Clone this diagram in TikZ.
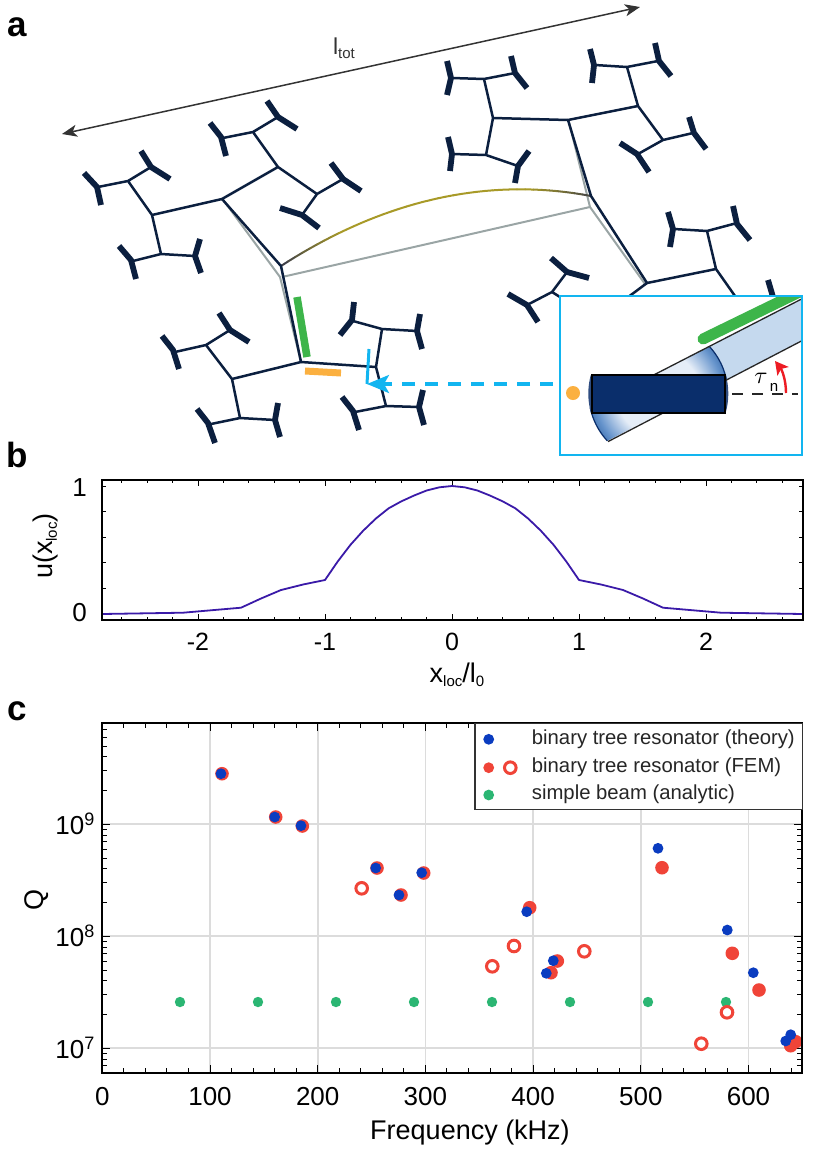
\documentclass[tikz,border=0pt]{standalone}
\usepackage{fontspec}
\setmainfont{Liberation Sans}
\usetikzlibrary{arrows.meta}

\definecolor{treenavy}{HTML}{0B1F3F}
\definecolor{restgray}{HTML}{9AA5A5}
\definecolor{beamgold}{HTML}{A89A28}
\definecolor{beamdark}{HTML}{3F4048}
\definecolor{insetblue}{HTML}{12B5F0}
\definecolor{barorange}{HTML}{FBB040}
\definecolor{bargreen}{HTML}{3DB54A}
\definecolor{beamlight}{HTML}{C5D9EE}
\definecolor{clampblue}{HTML}{0A2E6B}
\definecolor{gridgray}{HTML}{DCDCDC}
\definecolor{modeviolet}{HTML}{3A1AA8}
\definecolor{dotblue}{HTML}{0A3CC0}
\definecolor{dotred}{HTML}{F04438}
\definecolor{dotgreen}{HTML}{2BB673}
\definecolor{anglered}{HTML}{ED1C24}
\pgfdeclareradialshading{fanshade}{\pgfpointorigin}{rgb(0bp)=(0.9,0.93,0.97); rgb(15bp)=(0.9,0.93,0.97); rgb(23bp)=(0.4,0.58,0.8); rgb(31bp)=(0.04,0.25,0.52); rgb(50bp)=(0.04,0.25,0.52)}

\newcommand{\subtext}[1]{\raisebox{-4pt}{\fontsize{15}{15}\selectfont #1}}
\newcommand{\powten}[1]{10\raisebox{9pt}{\fontsize{18}{18}\selectfont #1}}

\tikzset{
    restline/.style={draw=restgray,line width=2pt},
    branchline/.style={draw=treenavy,line width=2.5pt,line join=round},
    forkline/.style={draw=treenavy,line width=5.8pt,line join=round},
    ticklabel/.style={font=\fontsize{26}{26}\selectfont,inner sep=0pt},
    axislabel/.style={font=\fontsize{27}{27}\selectfont,inner sep=0pt},
    panellabel/.style={font=\fontsize{35}{35}\selectfont\bfseries,inner sep=0pt},
    legendlabel/.style={font=\fontsize{20.3}{20.3}\selectfont,text=black!85,inner sep=0pt,anchor=west},
    bluedot/.style={fill=dotblue},
    reddot/.style={fill=dotred},
    greendot/.style={fill=dotgreen},
    openring/.style={draw=dotred,fill=white,line width=3pt}
}

\begin{document}
\begin{tikzpicture}[x=1pt,y=-1pt]
    \useasboundingbox (0,0) rectangle (830,1157);

    % panel a
    \node[panellabel] (lettera) at (17,27) {a};
    \coordinate (totL) at (62,134);
    \coordinate (totR) at (640,7);
    \draw[black!80,line width=1.5pt,{Stealth[length=15pt,width=12pt,inset=4pt]}-{Stealth[length=15pt,width=12pt,inset=4pt]}] (totL) -- (totR);
    \node[font=\fontsize{23}{23}\selectfont,text=black!80,inner sep=0pt] (ltot) at (344,48) {l\subtext{tot}};

    \coordinate (A) at (222,199);
    \coordinate (B) at (281,266);
    \coordinate (C) at (301,362);
    \coordinate (D) at (568,120);
    \coordinate (E) at (591,196);
    \coordinate (F) at (647,283);

    \draw[restline] (224,201)--(280,277)--(301,362) (282,277)--(590,207) (569,122)--(590,207)--(645,284);
    % gold bow of the long beam
    \foreach \i in {0,...,39}{
        \pgfmathsetmacro{\ta}{\i/40}
        \pgfmathsetmacro{\tb}{(\i+1)/40}
        \pgfmathsetmacro{\mixed}{min(100,170*sin(4.5*\i))}
        \pgfmathsetmacro{\xa}{(1-\ta)^3*281+3*(1-\ta)^2*\ta*375+3*(1-\ta)*\ta^2*480+\ta^3*591}
        \pgfmathsetmacro{\ya}{(1-\ta)^3*266+3*(1-\ta)^2*\ta*205+3*(1-\ta)*\ta^2*175+\ta^3*196}
        \pgfmathsetmacro{\xb}{(1-\tb)^3*281+3*(1-\tb)^2*\tb*375+3*(1-\tb)*\tb^2*480+\tb^3*591}
        \pgfmathsetmacro{\yb}{(1-\tb)^3*266+3*(1-\tb)^2*\tb*205+3*(1-\tb)*\tb^2*175+\tb^3*196}
        \draw[beamgold!\mixed!beamdark,line width=2pt,line cap=round] (\xa,\ya) -- (\xb,\yb);
    }

    % branches
    \draw[branchline] (A)--(B)--(C) (D)--(E)--(F);
    \draw[branchline] (A)--(152,215) (128,181)--(152,215)--(161,254) (98,187)--(128,181)--(151,167) (133,261)--(161,254)--(195,256);
    \draw[branchline] (A)--(278,167) (253,132)--(278,167)--(317,194) (223,138)--(253,132)--(278,117) (343,179)--(317,194)--(302,215);
    \draw[branchline] (C)--(232,379) (206,345)--(232,379)--(240,418) (175,352)--(206,345)--(230,330) (211,424)--(240,418)--(275,420);
    \draw[branchline] (C)--(376,367) (382,329)--(376,367)--(386,406) (353,321)--(382,329)--(417,331) (355,412)--(386,406)--(419,407);
    \draw[branchline] (D)--(493,118) (484,79)--(493,118)--(486,155) (452,78)--(484,79)--(515,73) (452,154)--(486,155)--(518,166);
    \draw[branchline] (D)--(638,106) (627,67)--(638,106)--(663,140) (595,65)--(627,67)--(658,61) (693,133)--(663,140)--(638,154);
    \draw[branchline] (F)--(716,269) (707,231)--(716,269)--(735,296) (674,229)--(707,231)--(737,223);
    \draw[branchline] (F)--(600,318) (560,297)--(552,292)--(567,272) (552,292)--(527,305);

    % thick forks
    \draw[forkline] (84,173)--(97,187)--(101,205) (141,151)--(151,167)--(170,179) (119,246)--(131,260)--(136,279) (200,239)--(195,256)--(201,273);
    \draw[forkline] (210,123)--(221,137)--(226,156) (267,101)--(278,117)--(297,129) (331,163)--(343,179)--(361,191) (280,208)--(302,215)--(319,228);
    \draw[forkline] (162,336)--(173,350)--(179,369) (219,313)--(230,330)--(249,342) (197,409)--(208,423)--(215,443) (278,403)--(275,420)--(280,437);
    \draw[forkline] (354,302)--(352,320)--(340,335) (420,314)--(417,331)--(422,349) (342,397)--(353,411)--(359,430) (423,390)--(419,407)--(424,425);
    \draw[forkline] (447,61)--(451,78)--(447,95) (511,56)--(515,73)--(527,88) (448,137)--(452,154)--(450,171) (529,151)--(518,166)--(515,183);
    \draw[forkline] (590,49)--(594,65)--(592,83) (655,43)--(659,61)--(671,76) (689,117)--(694,133)--(706,149) (620,143)--(637,154)--(649,172);
    \draw[forkline] (668,212)--(673,229)--(670,247) (733,206)--(737,224)--(750,240) (551,258)--(567,272)--(589,278) (508,294)--(527,305)--(538,322) (768,280)--(773,297);

    % bars and pointer
    \draw[bargreen,line width=7.5pt] (297,297) -- (307,357);
    \draw[barorange,line width=7pt] (305,371) -- (341,373);
    \coordinate (pointerTip) at (367,384);
    \coordinate (pointerEnd) at (553,384);
    \draw[insetblue,line width=3pt] (369,349) -- (pointerTip);
    \draw[insetblue,line width=3.2pt,dash pattern=on 13pt off 10pt,-{Stealth[length=22pt,width=18pt,inset=5pt]}] (pointerEnd) -- (pointerTip);

    % inset
    \coordinate (insetNW) at (560,296);
    \coordinate (insetSE) at (802,455);
    \coordinate (fanC) at (658.3,393.6);
    \fill[white] (insetNW) rectangle (insetSE);
    \begin{scope}
        \clip (insetNW) rectangle (insetSE);
        \fill[beamlight] (649.75,377) -- (801,299.3) -- (801,341.2) -- (666.85,410.2) -- cycle;
        \draw[bargreen,line width=11pt,line cap=round] (703,339) -- (820,282);
        \begin{scope}
            \clip (583.05,411.3) -- (716.4,342.7) -- (733.5,375.9) -- (600.15,444.5) -- cycle;
            \shade[shading=fanshade] (fanC) circle (69.5pt);
            \draw[clampblue,line width=1.2pt] (fanC) circle (69.5pt);
        \end{scope}
        \begin{scope}
            \clip (580,375) rectangle (740,413);
            \fill[clampblue!85] (fanC) circle (70pt);
        \end{scope}
        \draw[black!85,line width=1.3pt] (649.75,377) -- (801,299.3) (608,441.6) -- (801,341.2);
    \end{scope}
    \draw[black,fill=clampblue,line width=2pt] (592,375) rectangle (725,413);
    \fill[barorange] (573,393) circle (7pt);
    \draw[black!85,line width=1.5pt,dash pattern=on 11pt off 9pt] (732,394) -- (798,394);
    \node[scale=2.4,inner sep=0pt] (tauangle) at (761,378) {$\tau$};
    \node[font=\fontsize{15}{15}\selectfont,inner sep=0pt] (tausub) at (774,387) {n};
    \draw[anglered,line width=2.4pt,-{Stealth[length=13pt,width=14pt,inset=3pt]}] (786,393) .. controls (786,380) and (782,370) .. (775,361);
    \draw[insetblue,line width=2.4pt] (insetNW) rectangle (insetSE);

    % panel b
    \node[panellabel] (letterb) at (17,455) {b};
    \pgfmathsetmacro{\bzero}{452}
    \pgfmathsetmacro{\bunit}{127}
    \foreach \t in {-2.6,-2.4,...,2.7}{
        \pgfmathsetmacro{\tx}{\bzero+\bunit*\t}
        \draw[black,line width=0.9pt] (\tx,620) -- (\tx,617) (\tx,480) -- (\tx,483);
    }
    \foreach \t in {-2,-1,0,1,2}{
        \pgfmathsetmacro{\tx}{\bzero+\bunit*\t}
        \draw[black,line width=1pt] (\tx,620) -- (\tx,614) (\tx,480) -- (\tx,486);
        \node[ticklabel,font=\fontsize{25}{25}\selectfont] (bx\t) at (\tx,642) {\t};
    }
    \foreach \t in {0,1,...,5}{
        \pgfmathsetmacro{\ty}{614-25.6*\t}
        \draw[black,line width=1pt] (102,\ty) -- (106,\ty) (803,\ty) -- (799,\ty);
    }
    \draw[modeviolet,line width=1.8pt,line join=round] plot coordinates {(102,614) (183,612.7) (241,607.7) (261,598.5) (281,590) (303,584.5) (325,580)
        (337.7,561.5) (350.4,544.9) (363.1,530.8) (375.8,518.6) (388.5,508.4) (401.2,501.4) (413.9,495.6) (426.6,490.5) (439.3,487.3) (452,486)
        (464.7,487.3) (477.4,490.5) (490.1,495.6) (502.8,501.4) (515.5,508.4) (528.2,518.6) (540.9,530.8) (553.6,544.9) (566.3,561.5) (579,580)
        (601,584.5) (623,590) (643,598.5) (663,607.7) (721,612.7) (803,614)};
    \draw[black,line width=1.8pt] (102,480) rectangle (803,620);
    \node[ticklabel,anchor=east] (bylabela) at (87,488) {1};
    \node[ticklabel,anchor=east] (bylabelb) at (87,613) {0};
    \node[axislabel,rotate=90] (bylabel) at (46,546) {u(x\subtext{loc})};
    \node[axislabel] (bxlabel) at (457,675) {x\subtext{loc}/l\subtext{0}};

    % panel c
    \node[panellabel] (letterc) at (17,711) {c};
    \coordinate (boxNW) at (102,723.3);
    \coordinate (boxSE) at (802.3,1073.3);
    \foreach \f in {100,200,...,600}{
        \pgfmathsetmacro{\fx}{102.3+1.077*\f}
        \draw[gridgray,line width=1.8pt] (\fx,723.3) -- (\fx,1073.3);
    }
    \foreach \d in {0,1,2}{
        \pgfmathsetmacro{\qy}{1048.3-112*\d}
        \draw[gridgray,line width=1.8pt] (102,\qy) -- (802.3,\qy);
    }
    \begin{scope}
        \clip (boxNW) rectangle (boxSE);
        \foreach \f in {20,40,...,640}{
            \pgfmathsetmacro{\fx}{102.3+1.077*\f}
            \draw[black,line width=0.9pt] (\fx,1073.3) -- (\fx,1068.3) (\fx,723.3) -- (\fx,728.3);
        }
        \foreach \d in {-1,0,1,2}{
            \foreach \m in {2,...,9}{
                \pgfmathsetmacro{\qy}{1048.3-112*(\d+log10(\m))}
                \draw[black,line width=0.9pt] (102,\qy) -- (107,\qy) (802.3,\qy) -- (797.3,\qy);
            }
        }
    \end{scope}
    \foreach \f in {100,200,...,600}{
        \pgfmathsetmacro{\fx}{102.3+1.077*\f}
        \draw[black,line width=1pt] (\fx,1073.3) -- (\fx,1065.3) (\fx,723.3) -- (\fx,731.3);
    }
    \foreach \d in {0,1,2}{
        \pgfmathsetmacro{\qy}{1048.3-112*\d}
        \draw[black,line width=1pt] (102,\qy) -- (110,\qy) (802.3,\qy) -- (794.3,\qy);
    }
    \foreach \gx in {180,258,336,414,492,570,648,726}
        \fill[greendot] (\gx,1002) circle (5.2pt);
    \foreach \rx/\ry in {361.7/888.3,492.3/966.3,514/946,584.3/951.3,701.3/1043.7,727/1012.3}
        \draw[openring] (\rx,\ry) circle (5.8pt);
    \foreach \rx/\ry in {222/773.7,275.7/817,302.3/826,377/868,401/895,423.7/873,529.7/907.7,551/972.7,557.3/961,662/867.7,732.3/953.3,759/990,790.7/1045.7,795.7/1041.7}
        \fill[reddot] (\rx,\ry) circle (6.8pt);
    \foreach \bx/\by in {221/773.7,274.7/817,301/825.7,375.7/868,399/895,421.7/872.7,526.7/911.7,546.3/973.3,553.3/960.7,658/848.3,727.3/930,753.3/972.7,785.7/1041,790.7/1034.7}
        \fill[bluedot] (\bx,\by) circle (5.4pt);
    \draw[black,line width=1.8pt] (boxNW) rectangle (boxSE);

    % legend
    \draw[fill=white,draw=black!80,line width=1.6pt] (474.7,723.3) rectangle (802.3,809.3);
    \fill[bluedot] (488.7,739.3) circle (5.4pt);
    \fill[reddot] (488.7,767.7) circle (5.4pt);
    \draw[openring] (510.3,767.7) circle (5.8pt);
    \fill[greendot] (488.7,795) circle (5.4pt);
    \node[legendlabel] (legtheory) at (531.7,739.7) {binary tree resonator (theory)};
    \node[legendlabel] (legfem) at (531.7,767) {binary tree resonator (FEM)};
    \node[legendlabel] (legbeam) at (531.7,794) {simple beam (analytic)};

    \foreach \f in {0,100,...,600}{
        \pgfmathsetmacro{\fx}{102.3+1.077*\f}
        \node[ticklabel] (cx\f) at (\fx,1097) {\f};
    }
    \foreach \d/\e in {0/7,1/8,2/9}{
        \pgfmathsetmacro{\qy}{1058-112*\d}
        \node[ticklabel,anchor=base east] (cy\e) at (94.5,\qy) {\powten{\e}};
    }
    \node[axislabel,rotate=90] (cylabel) at (37,900) {Q};
    \node[axislabel] (cxlabel) at (470,1133) {Frequency (kHz)};
\end{tikzpicture}
\end{document}
